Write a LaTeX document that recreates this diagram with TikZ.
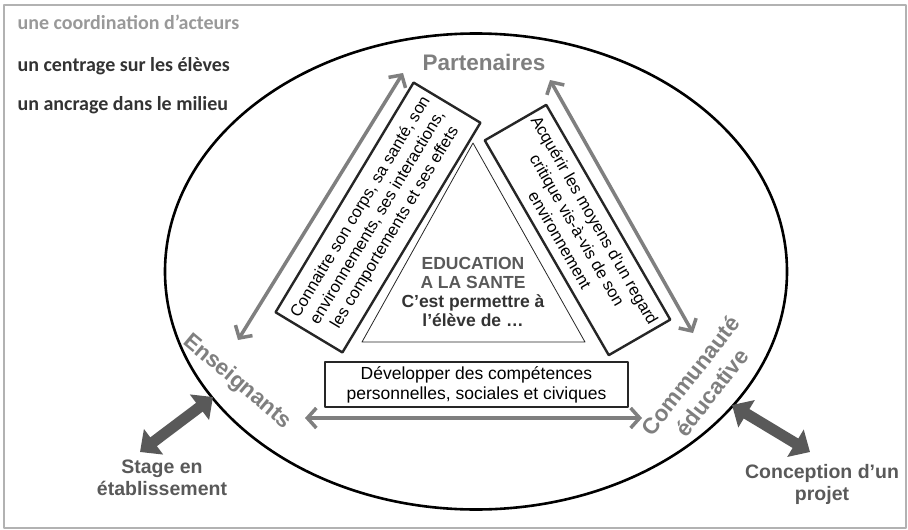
\documentclass[tikz,border=0pt]{standalone}
\usepackage{fontspec}
\setmainfont{Liberation Sans}
\newfontfamily\calib{Carlito}
\usetikzlibrary{arrows.meta}
\definecolor{midgray}{HTML}{7F7F7F}
\definecolor{deepgray}{HTML}{595959}
\definecolor{inkgray}{HTML}{333333}
\definecolor{boxline}{HTML}{262626}

\begin{document}
\begin{tikzpicture}[x=1pt, y=-1pt, line join=round,
    rolelabel/.style={text=midgray, font=\fontsize{22.5}{27}\selectfont\bfseries},
    goalbox/.style={draw=boxline, line width=2.4pt, align=center, inner sep=0pt,
        font=\fontsize{16.5}{20}\selectfont},
    linkarrow/.style={draw=midgray, line width=3.5pt,
        {Straight Barb[length=9pt,width=20pt]}-{Straight Barb[length=9pt,width=20pt]}},
    bigarrow/.style={draw=deepgray, line width=11pt,
        {Triangle[length=17pt,width=31pt]}-{Triangle[length=17pt,width=31pt]}},
    outtext/.style={text=deepgray, align=center, font=\fontsize{19.5}{22}\selectfont\bfseries},
    theme/.style={anchor=base west, font=\calib\fontsize{20}{22}\selectfont\bfseries}
]
    \useasboundingbox (0,0) rectangle (908,530);
    \draw[gray!60, line width=1.4pt] (4,5) rectangle (906,528);

    % les trois axes
    \node[theme, text=gray!80] (coord) at (14,29) {une coordination d’acteurs};
    \node[theme, text=inkgray] (centre) at (14,71) {un centrage sur les élèves};
    \node[theme, text=inkgray] (ancrage) at (14,110) {un ancrage dans le milieu};

    % le milieu
    \draw[line width=2.6pt] (476,271.5) ellipse [x radius=311, y radius=238];

    \node[rolelabel] (partners) at (484,62) {Partenaires};
    \node[rolelabel, rotate=-40] (teachers) at (237,382) {Enseignants};
    \node[rolelabel, rotate=52, align=center] (community) at (701,384) {Communauté\\éducative};

    % le triangle central
    \coordinate (apex) at (473,143);
    \coordinate (baseL) at (362,342);
    \coordinate (baseR) at (585,342);
    \draw[boxline, line width=0.8pt] (apex) -- (baseL) -- (baseR) -- cycle;
    \node[align=center, font=\fontsize{17.5}{19}\selectfont\bfseries] (core) at (473,291.5)
        {\textcolor{deepgray}{EDUCATION}\\\textcolor{deepgray}{A LA SANTE}\\
         \textcolor{inkgray}{C’est permettre à}\\\textcolor{inkgray}{l’élève de …}};

    % les competences
    \node[goalbox, rotate=59, minimum width=268pt, minimum height=78pt] (bodybox) at (378,217.5)
        {Connaitre son corps, sa santé, son\\environnements, ses interactions,\\les comportements et ses effets};
    \node[goalbox, rotate=-60, minimum width=248pt, minimum height=71pt] (viewbox) at (577.5,230)
        {Acquérir les moyens d’un regard\\critique vis-à-vis de son\\environnement};
    \node[goalbox, font=\fontsize{17.5}{20}\selectfont, minimum width=303pt, minimum height=45pt]
        (skillbox) at (476.5,384.5)
        {Développer des compétences\\personnelles, sociales et civiques};

    \coordinate (p-left) at (403,73);
    \coordinate (t-top) at (238,340);
    \coordinate (p-right) at (550,80);
    \coordinate (c-top) at (693,333);
    \coordinate (t-low) at (305,418);
    \coordinate (c-low) at (642,418);
    \draw[linkarrow] (p-left) -- (t-top);
    \draw[linkarrow] (p-right) -- (c-top);
    \draw[linkarrow] (t-low) -- (c-low);

    % vers l'exterieur
    \node[outtext] (stage) at (162,478) {Stage en\\établissement};
    \node[outtext] (projet) at (822,484) {Conception d’un\\projet};
    \coordinate (stage-in) at (213,397);
    \coordinate (stage-out) at (140,452);
    \coordinate (projet-in) at (732,405);
    \coordinate (projet-out) at (810,452);
    \draw[bigarrow] (stage-out) -- (stage-in);
    \draw[bigarrow] (projet-in) -- (projet-out);
\end{tikzpicture}
\end{document}
